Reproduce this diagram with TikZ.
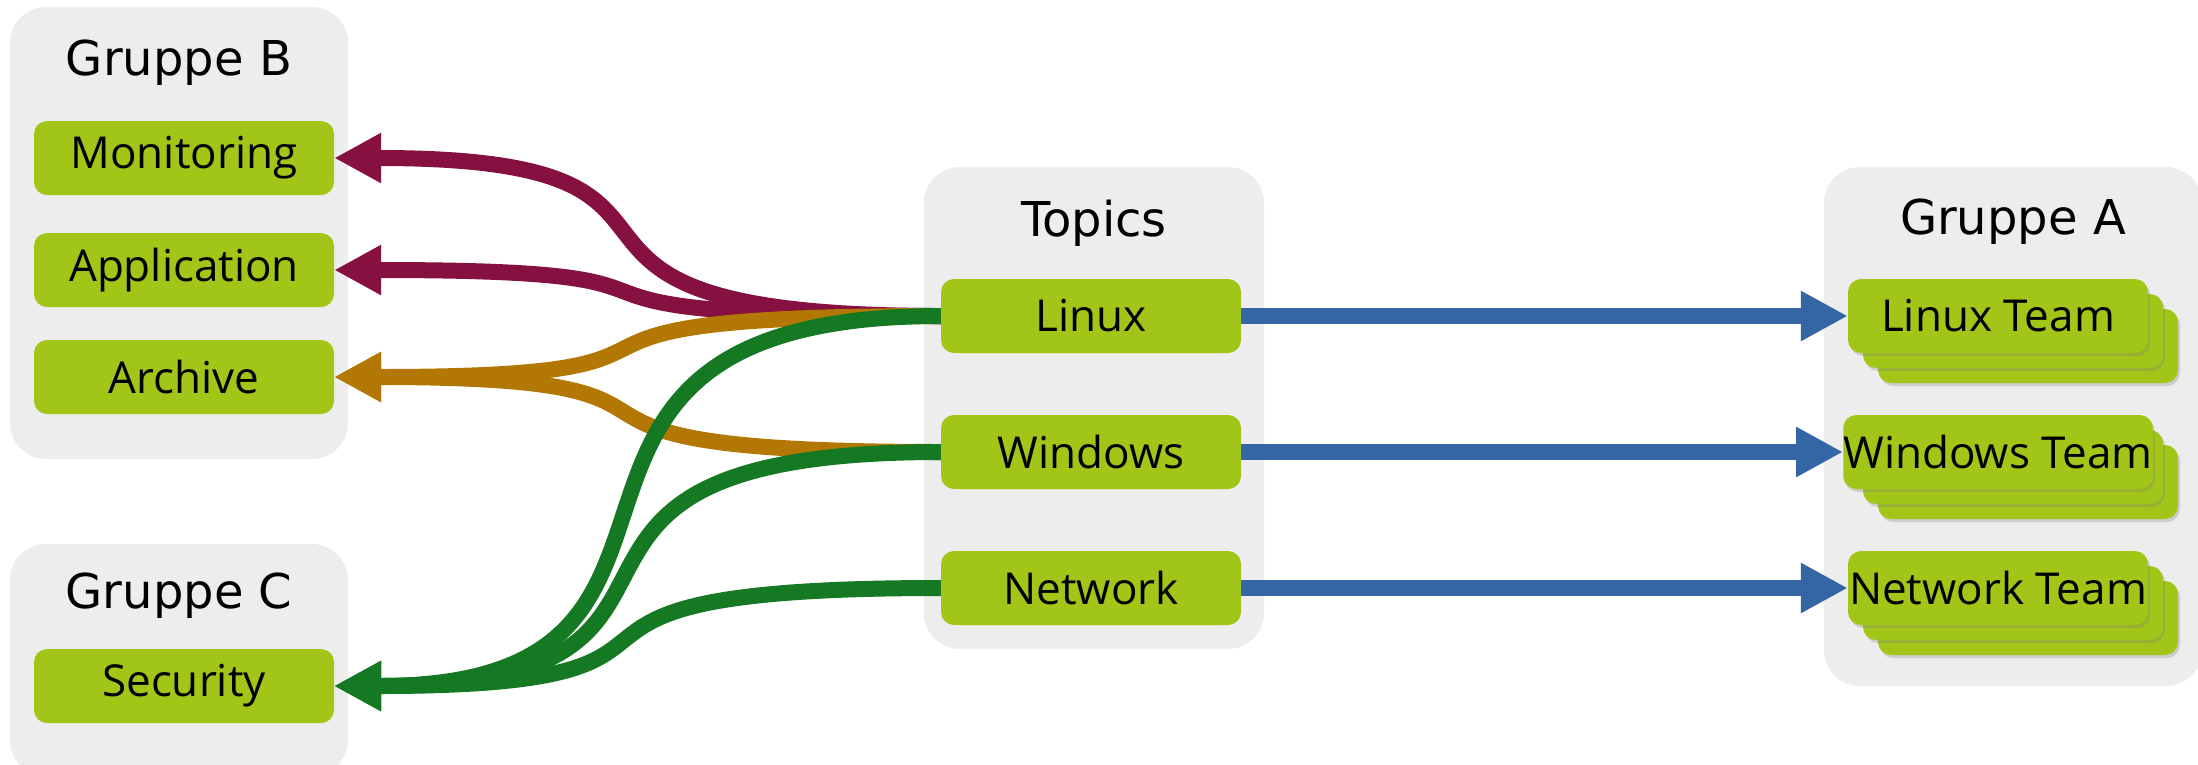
\documentclass[tikz,border=0pt]{standalone}
\usepackage{fontspec}
\setmainfont{Open Sans}
\newfontfamily\titlefont{DejaVu Sans}
\usetikzlibrary{arrows.meta}
\usetikzlibrary{calc}
\usetikzlibrary{shadows}

\definecolor{groupgray}{HTML}{EDEDED}
\definecolor{itemgreen}{HTML}{A2C617}
\definecolor{flowblue}{HTML}{3465A4}
\definecolor{flowpurple}{HTML}{861040}
\definecolor{floworange}{HTML}{B37804}
\definecolor{flowgreen}{HTML}{157822}

\begin{document}
\begin{tikzpicture}[x=1pt, y=-1pt]

  \useasboundingbox (0,0) rectangle (2198,764);

  \path
    let
     \n{left}  = {184},
     \n{mid}   = {1091},
     \n{right} = {1998}
    in
     coordinate (monitoring)  at (\n{left}, 158)
     coordinate (application) at (\n{left}, 270)
     coordinate (archive)     at (\n{left}, 377)
     coordinate (security)    at (\n{left}, 686)
     coordinate (linux)       at (\n{mid}, 316)
     coordinate (windows)     at (\n{mid}, 452)
     coordinate (network)     at (\n{mid}, 588)
     coordinate (linuxteam)   at (\n{right}, 316)
     coordinate (windowsteam) at (\n{right}, 452)
     coordinate (networkteam) at (\n{right}, 588)
    ;

  % Group boxes
  \tikzset{groupstyle/.style = {fill=groupgray, rounded corners=36pt}}
  \path [groupstyle] (10,7) rectangle (348,459);
  \path [groupstyle] (10,544) rectangle (348,776);
  \path [groupstyle] (924,167) rectangle (1264,649);
  \path [groupstyle] (1824,167) rectangle (2202,686);

  \tikzset{titlestyle/.style = {anchor=base, inner sep=0pt, font=\titlefont\fontsize{48}{58}\selectfont}}
  \node [titlestyle] (GruppeB) at (179,75) {Gruppe B};
  \node [titlestyle] (GruppeC) at (179,608) {Gruppe C};
  \node [titlestyle] (Topics) at (1094,236) {Topics};
  \node [titlestyle] (GruppeA) at (2013,234) {Gruppe A};

  % Items
  \tikzset{itemstyle/.style = {shape=rectangle, fill=itemgreen, rounded corners=13pt, inner sep=0pt,
      minimum width=300pt, minimum height=74pt, font=\fontsize{44}{52}\selectfont}}

  \node [itemstyle] (Monitoring) at (monitoring) {Monitoring};
  \node [itemstyle] (Application) at (application) {Application};
  \node [itemstyle] (Archive) at (archive) {Archive};
  \node [itemstyle] (Security) at (security) {Security};

  \node [itemstyle] (Linux) at (linux) {Linux};
  \node [itemstyle] (Windows) at (windows) {Windows};
  \node [itemstyle] (Network) at (network) {Network};

  % Teams, stacked
  \tikzset{teamstyle/.style = {itemstyle, drop shadow={shadow xshift=2pt, shadow yshift=-3pt, opacity=0.3}}}
  \foreach \team/\label in {linuxteam/Linux Team, windowsteam/Windows Team, networkteam/Network Team} {
    \node [teamstyle] (\team-2) at ($(\team)+(30,30)$) {};
    \node [teamstyle] (\team-1) at ($(\team)+(15,15)$) {};
    \node [teamstyle] (\team) at (\team) {\label};
  }

  % Connecting arrows
  \tikzset{flowstyle/.style = {draw, line width=16pt, -{Triangle[length=47pt, width=47pt]}}}
  \tikzset{leftflow/.style = {flowstyle, to path={.. controls +(-480,0) and +(440,0) .. (\tikztotarget)}}}

  \path [leftflow, flowpurple] (Linux.west) to (Monitoring.east);
  \path [leftflow, flowpurple] (Linux.west) to (Application.east);
  \path [leftflow, floworange] (Linux.west) to (Archive.east);
  \path [leftflow, floworange] (Windows.west) to (Archive.east);
  \path [leftflow, flowgreen] (Linux.west) to (Security.east);
  \path [leftflow, flowgreen] (Windows.west) to (Security.east);
  \path [leftflow, flowgreen] (Network.west) to (Security.east);

  \path [flowstyle, flowblue] (Linux.east) -- (linuxteam.west);
  \path [flowstyle, flowblue] (Windows.east) -- (windowsteam.west);
  \path [flowstyle, flowblue] (Network.east) -- (networkteam.west);

\end{tikzpicture}
\end{document}
